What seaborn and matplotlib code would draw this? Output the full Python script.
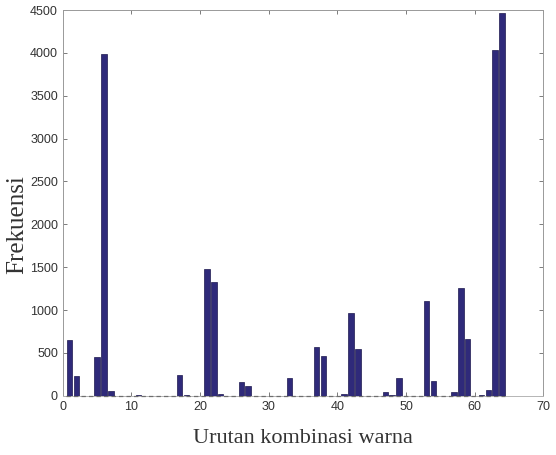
import matplotlib
matplotlib.use("Agg")
import matplotlib.pyplot as plt
import seaborn as sns
import numpy as np
import pandas as pd

indices = list(range(1, 65))
frekuensi = [650, 230, 0, 0, 450, 3990, 60, 0, 0, 0,
             10, 0, 0, 0, 0, 0, 240, 5, 0, 0,
             1480, 1330, 20, 0, 0, 160, 110, 0, 0, 0,
             0, 0, 210, 0, 0, 0, 570, 460, 0, 0,
             20, 970, 550, 0, 0, 0, 50, 15, 210, 0,
             0, 0, 1110, 170, 0, 0, 50, 1260, 660, 0,
             15, 70, 4030, 4460]
xticks = [0, 10, 20, 30, 40, 50, 60, 70]
yticks = [0, 500, 1000, 1500, 2000, 2500, 3000, 3500, 4000, 4500]

df = pd.DataFrame({"idx": indices, "freq": frekuensi})

sns.set_style("ticks")
fig = plt.figure(figsize=(5.56, 4.55), dpi=100)
ax = fig.add_axes([0.113, 0.130, 0.864, 0.848])

sns.barplot(data=df, x="idx", y="freq", native_scale=True, width=0.8,
            color="#2f2a7a", saturation=1, edgecolor="#1c184e", linewidth=0.5, ax=ax)
for p in ax.patches:
    p.set_zorder(4)

ax.set_xlim(0, 70)
ax.set_ylim(0, 4500)
ax.plot([0.4, indices[-1] + 0.4], [0, 0], color="#6e6e6e", linestyle=(0, (3.5, 2.5)),
        linewidth=0.9, zorder=3, clip_on=False)
ax.set_xticks(xticks)
ax.set_yticks(yticks)
ax.tick_params(direction="in", length=3, width=0.6, colors="#666666",
               labelsize=9, top=True, right=True, labelcolor="#333333")
for lab in ax.get_xticklabels() + ax.get_yticklabels():
    lab.set_family(["Liberation Sans", "DejaVu Sans"])
for s in ax.spines.values():
    s.set_color("#999999")
    s.set_linewidth(0.7)
ax.spines["bottom"].set_color("#b5b5b5")

ax.set_xlabel("Urutan kombinasi warna", family="Liberation Serif", fontsize=16,
              color="#333333", labelpad=12)
ax.set_ylabel("Frekuensi", family="Liberation Serif", fontsize=18,
              color="#333333")
ax.yaxis.set_label_coords(-0.073, 0.443)

fig.savefig("out.png", dpi=100)
